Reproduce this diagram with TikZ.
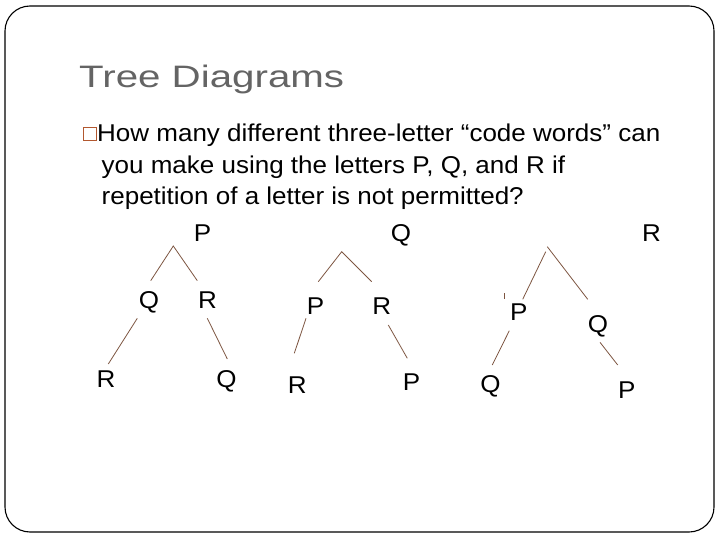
\documentclass[tikz,border=0pt]{standalone}
\usepackage{fontspec}
\usepackage{graphicx}
\setmainfont{Liberation Sans}
\definecolor{titlegray}{RGB}{100,100,100}
\definecolor{bulletcol}{RGB}{178,88,47}
\definecolor{branchcol}{RGB}{125,85,65}
\newcommand{\bodyfont}{\fontsize{24.3}{29}\selectfont}
\newcommand{\stx}[1]{\scalebox{1.07}[1]{#1}}
\begin{document}
\begin{tikzpicture}[x=1pt,y=-1pt,
  frame/.style={draw=black,line width=1.1pt,rounded corners=25pt},
  titletext/.style={anchor=base west,inner sep=0pt,text=titlegray,font=\fontsize{31}{36}\selectfont},
  bodytext/.style={anchor=base west,inner sep=0pt,text=black,font=\bodyfont},
  letter/.style={anchor=base,inner sep=0pt,text=black,font=\bodyfont},
  bulletbox/.style={draw=bulletcol,line width=1.6pt,minimum width=13pt,minimum height=13pt,inner sep=0pt},
  branch/.style={draw=branchcol,line width=0.8pt}]
\useasboundingbox (0,0) rectangle (720,540);
\draw[frame] (5,6) rectangle (714,532);
% title
\node[titletext] (title) at (79,87.7) {\scalebox{1.3}[1]{Tree Diagrams}};
% bullet
\node[bulletbox] (bul) at (89.8,134.2) {};
\node[bodytext] (l1) at (97,142) {\stx{How many different three-letter “code words” can}};
\node[bodytext] (l2) at (101.5,173.5) {\stx{you make using the letters P, Q, and R if}};
\node[bodytext] (l3) at (101.5,205) {\stx{repetition of a letter is not permitted?}};
% level 1
\node[letter] (P1) at (202.5,241.7) {\stx{P}};
\node[letter] (Q1) at (401,241.7) {\stx{Q}};
\node[letter] (R1) at (651.5,241.7) {\stx{R}};
% level 2
\node[letter] (Q2a) at (149,308.3) {\stx{Q}};
\node[letter] (R2a) at (207.5,308.7) {\stx{R}};
\node[letter] (P2b) at (315.5,314) {\stx{P}};
\node[letter] (R2b) at (381.7,314) {\stx{R}};
\node[letter] (P2c) at (518.8,320) {\stx{P}};
\node[letter] (Q2c) at (598,332) {\stx{Q}};
% level 3
\node[letter] (R3a) at (106,387.7) {\stx{R}};
\node[letter] (Q3a) at (226.5,387) {\stx{Q}};
\node[letter] (R3b) at (297.3,393) {\stx{R}};
\node[letter] (P3b) at (411.5,390) {\stx{P}};
\node[letter] (Q3c) at (490.5,392) {\stx{Q}};
\node[letter] (P3c) at (626.7,398.3) {\stx{P}};
% branch end points
\coordinate (a1) at (173.3,246);
\coordinate (a1l) at (150.7,280.7);
\coordinate (a1r) at (197.3,280.7);
\coordinate (b1s) at (137.3,318.3);
\coordinate (b1e) at (108.3,364);
\coordinate (c1s) at (207.3,318.3);
\coordinate (c1e) at (227.3,359);
\coordinate (a2) at (341.7,251.7);
\coordinate (a2l) at (318.3,281.7);
\coordinate (a2r) at (371.7,281.7);
\coordinate (b2s) at (306,318.3);
\coordinate (b2e) at (294.3,353.3);
\coordinate (c2s) at (388.3,325);
\coordinate (c2e) at (407.3,358.3);
\coordinate (a3l0) at (545.7,251.7);
\coordinate (a3l) at (522.7,299.3);
\coordinate (a3r0) at (547.3,246.7);
\coordinate (a3r) at (587.7,299.3);
\coordinate (b3s) at (509.3,330.7);
\coordinate (b3e) at (492.3,365);
\coordinate (c3s) at (600,342.3);
\coordinate (c3e) at (617.7,365);
\coordinate (t3s) at (504.3,293.3);
\coordinate (t3e) at (504.3,299);
% branches
\draw[branch] (a1l) -- (a1) -- (a1r);
\draw[branch] (b1s) -- (b1e);
\draw[branch] (c1s) -- (c1e);
\draw[branch] (a2l) -- (a2) -- (a2r);
\draw[branch] (b2s) -- (b2e);
\draw[branch] (c2s) -- (c2e);
\draw[branch] (a3l0) -- (a3l);
\draw[branch] (a3r0) -- (a3r);
\draw[branch] (b3s) -- (b3e);
\draw[branch] (c3s) -- (c3e);
\draw[branch] (t3s) -- (t3e);
\end{tikzpicture}
\end{document}
